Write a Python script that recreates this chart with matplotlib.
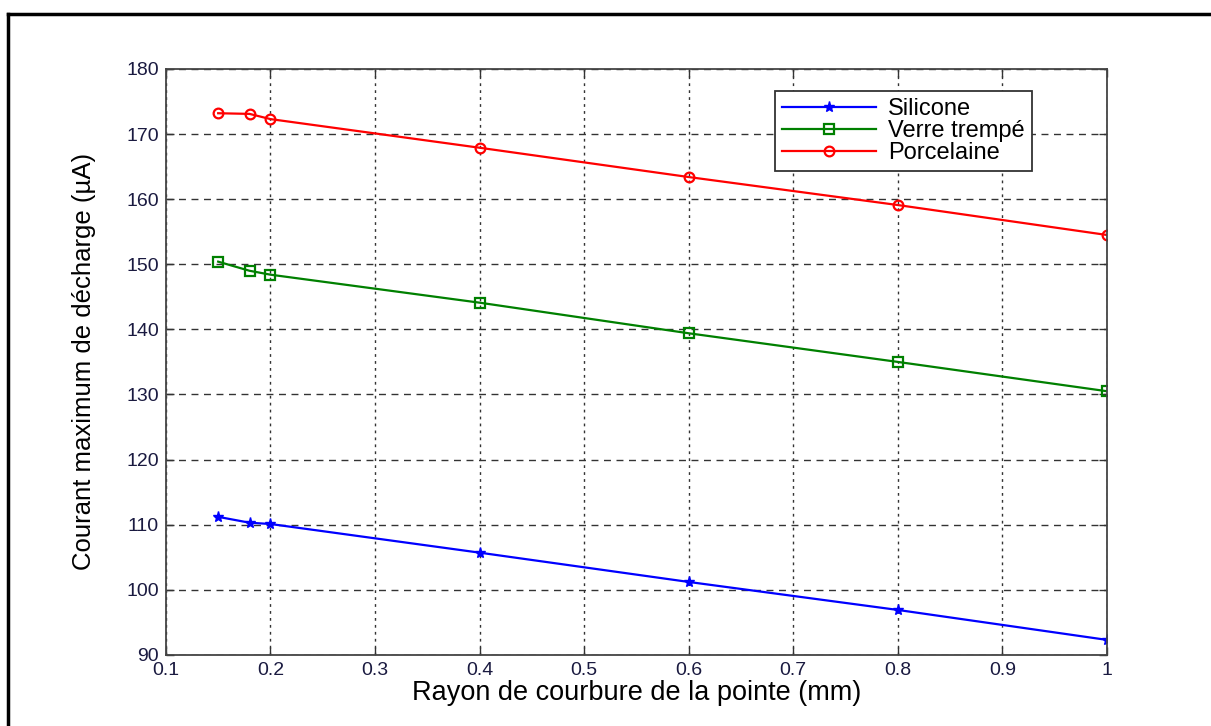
import matplotlib
matplotlib.use("Agg")
import matplotlib.pyplot as plt
from matplotlib.lines import Line2D

# Données
rayon = [0.15, 0.18, 0.2, 0.4, 0.6, 0.8, 1.0]
silicone = [111.2, 110.3, 110.1, 105.7, 101.2, 96.9, 92.3]
verre_trempe = [150.4, 149.0, 148.4, 144.1, 139.4, 135.0, 130.5]
porcelaine = [173.2, 173.1, 172.3, 167.9, 163.4, 159.1, 154.5]

x_ticks = [0.1, 0.2, 0.3, 0.4, 0.5, 0.6, 0.7, 0.8, 0.9, 1]
x_ticklabels = ["0.1", "0.2", "0.3", "0.4", "0.5", "0.6", "0.7", "0.8", "0.9", "1"]
y_ticks = [90, 100, 110, 120, 130, 140, 150, 160, 170, 180]

plt.rcParams['font.family'] = ['Liberation Sans', 'DejaVu Sans']

fig = plt.figure(figsize=(12.11, 7.26), dpi=100)
ax = fig.add_axes([0.137, 0.098, 0.777, 0.807])

ax.plot(rayon, silicone, color='#0000ff', marker='*', markersize=8, lw=1.6, label='Silicone')
ax.plot(rayon, verre_trempe, color='#008000', marker='s', markersize=7, mfc='none', mew=1.6,
        lw=1.6, label='Verre trempé')
ax.plot(rayon, porcelaine, color='#ff0000', marker='o', markersize=7, mfc='none', mew=1.6,
        lw=1.6, label='Porcelaine')

ax.set_xlim(0.1, 1)
ax.set_ylim(90, 180)
ax.set_xticks(x_ticks)
ax.set_xticklabels(x_ticklabels)
ax.set_yticks(y_ticks)

# grille façon MATLAB
ax.xaxis.grid(True, linestyle=(0, (2, 3)), color='#333333', lw=1.0)
ax.yaxis.grid(True, linestyle=(0, (5, 4)), color='#333333', lw=1.0)

ax.tick_params(direction='in', top=True, right=True, length=6, width=1,
               labelsize=14, colors='#333333', labelcolor='#1a1a40', pad=5)
for s in ax.spines.values():
    s.set_color('#444444')
    s.set_linewidth(1.3)

ax.set_xlabel('Rayon de courbure de la pointe (mm)', fontsize=19.5, labelpad=1)
ax.set_ylabel('Courant maximum de décharge (µA)', fontsize=18.5, labelpad=22)

leg = ax.legend(loc='upper right', bbox_to_anchor=(0.920, 0.962), fontsize=17,
                fancybox=False, framealpha=1, edgecolor='#333333',
                borderpad=0.3, labelspacing=0.0, handlelength=4.0, handletextpad=0.5,
                borderaxespad=0)
leg.get_frame().set_linewidth(1.3)

# cadre de la figure (haut et gauche)
fig.add_artist(Line2D([8 / 1211, 1], [1 - 14 / 726, 1 - 14 / 726], color='black', lw=2.5,
                      transform=fig.transFigure))
fig.add_artist(Line2D([8 / 1211, 8 / 1211], [0, 1 - 14 / 726], color='black', lw=2.5,
                      transform=fig.transFigure))

fig.savefig('out.png', dpi=100)
